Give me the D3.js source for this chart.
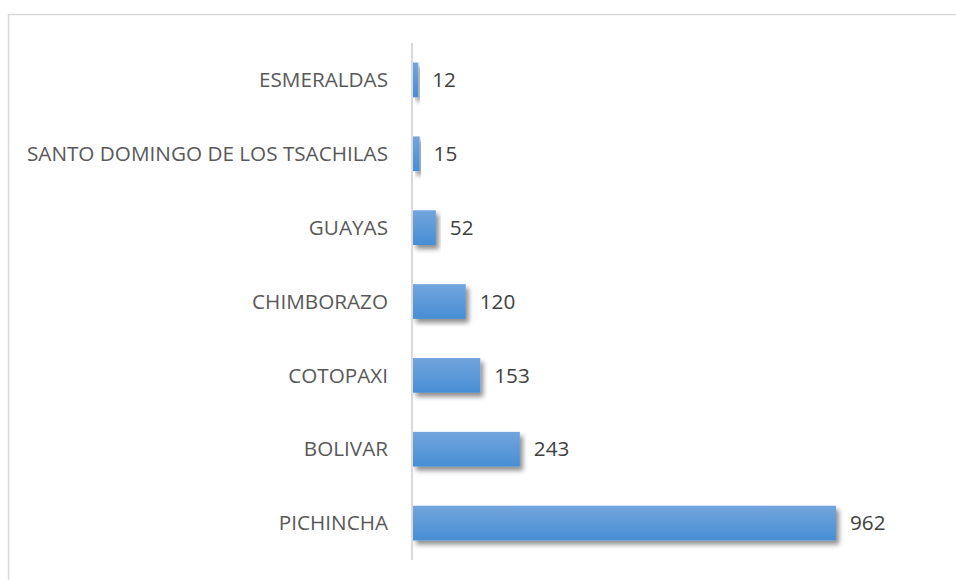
<!DOCTYPE html>
<html>
<head>
<meta charset="utf-8" />
<script src="https://cdn.jsdelivr.net/npm/d3@7/dist/d3.min.js"></script>
<style>
    body { margin: 0; background: #fff; }
    svg { display: block; }
    .cat { font-family: "Open Sans", sans-serif; font-size: 20.7px; fill: #595959; }
    .val { font-family: "Open Sans", sans-serif; font-size: 20.7px; fill: #404040; }
</style>
</head>
<body>
<script>
    var provinces = ["ESMERALDAS", "SANTO DOMINGO DE LOS TSACHILAS", "GUAYAS", "CHIMBORAZO", "COTOPAXI", "BOLIVAR", "PICHINCHA"];
    var counts = [12, 15, 52, 120, 153, 243, 962];

    var svgWidth = 956, svgHeight = 580;
    var margin = {top: 43, left: 413, bottom: 20};
    var plotWidth = 423 * 1000 / 962; // px for 1000 units

    var svg = d3.select("body").append("svg")
        .attr("width", svgWidth)
        .attr("height", svgHeight);

    var defs = svg.append("defs");
    var grad = defs.append("linearGradient")
        .attr("id", "barGrad")
        .attr("x1", 0).attr("y1", 0).attr("x2", 0).attr("y2", 1);
    grad.append("stop").attr("offset", "0%").attr("stop-color", "#72a5dd");
    grad.append("stop").attr("offset", "100%").attr("stop-color", "#478ed5");

    var shadow = defs.append("filter")
        .attr("id", "shadow")
        .attr("x", "-10%").attr("y", "-30%").attr("width", "130%").attr("height", "180%");
    shadow.append("feGaussianBlur").attr("in", "SourceAlpha").attr("stdDeviation", 2.5);
    shadow.append("feOffset").attr("dx", 3).attr("dy", 4).attr("result", "off");
    shadow.append("feComponentTransfer").append("feFuncA").attr("type", "linear").attr("slope", 0.45);
    var merge = shadow.append("feMerge");
    merge.append("feMergeNode");
    merge.append("feMergeNode").attr("in", "SourceGraphic");

    // chart border
    svg.append("rect")
        .attr("x", 8.5).attr("y", 14.5)
        .attr("width", 960).attr("height", 600)
        .attr("fill", "none")
        .attr("stroke", "#d9d9d9")
        .attr("stroke-width", 1.5);

    var x = d3.scaleLinear()
        .domain([0, 1000])
        .range([margin.left, margin.left + plotWidth]);

    var y = d3.scaleBand()
        .domain(provinces)
        .range([margin.top, 560])
        .paddingInner(0.53)
        .paddingOuter(0.265);

    var data = provinces.map(function(p, i) { return {name: p, value: counts[i]}; });

    svg.selectAll(".bar")
        .data(data)
        .enter().append("rect")
        .attr("class", "bar")
        .attr("x", x(0))
        .attr("y", function(d) { return y(d.name); })
        .attr("width", function(d) { return x(d.value) - x(0); })
        .attr("height", y.bandwidth())
        .attr("fill", "url(#barGrad)")
        .attr("filter", "url(#shadow)");

    // vertical axis line
    svg.append("line")
        .attr("x1", x(0) - 1).attr("x2", x(0) - 1)
        .attr("y1", margin.top).attr("y2", 560)
        .attr("stroke", "#d9d9d9")
        .attr("stroke-width", 2);

    svg.selectAll(".cat")
        .data(data)
        .enter().append("text")
        .attr("class", "cat")
        .attr("x", 388)
        .attr("y", function(d) { return y(d.name) + y.bandwidth() / 2; })
        .attr("dy", "0.35em")
        .attr("text-anchor", "end")
        .text(function(d) { return d.name; });

    svg.selectAll(".val")
        .data(data)
        .enter().append("text")
        .attr("class", "val")
        .attr("x", function(d) { return x(d.value) + 14; })
        .attr("y", function(d) { return y(d.name) + y.bandwidth() / 2; })
        .attr("dy", "0.35em")
        .text(function(d) { return d.value; });
</script>
</body>
</html>
